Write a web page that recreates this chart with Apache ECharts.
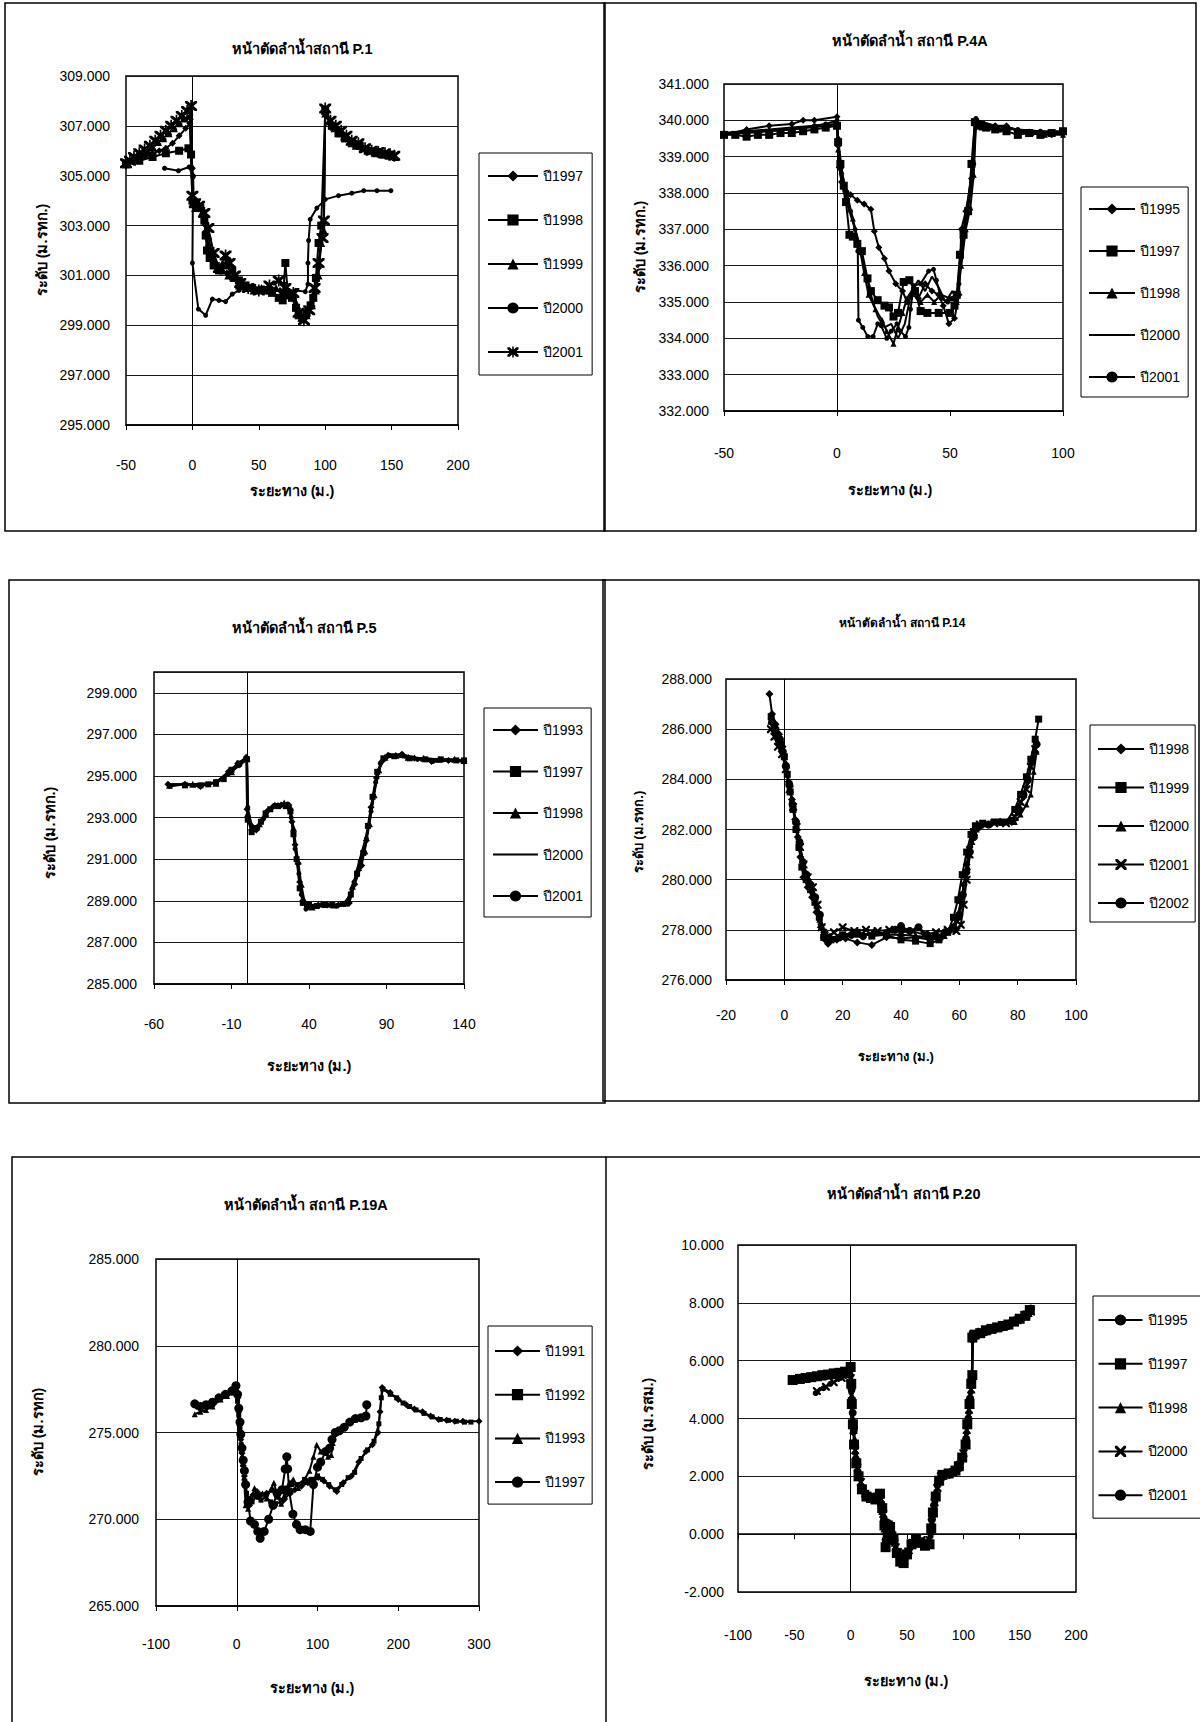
<!DOCTYPE html>
<html>
<head>
<meta charset="utf-8">
<script src="https://cdn.jsdelivr.net/npm/echarts@6/dist/echarts.min.js"></script>
<style>
html,body{margin:0;padding:0;background:#fff;width:1200px;height:1722px;overflow:hidden}
.panel{position:absolute}
</style>
</head>
<body>
<div id="c0" class="panel" style="left:0;top:0;width:606px;height:575px"></div>
<div id="c1" class="panel" style="left:600px;top:0;width:600px;height:575px"></div>
<div id="c2" class="panel" style="left:0;top:575px;width:606px;height:575px"></div>
<div id="c3" class="panel" style="left:600px;top:575px;width:600px;height:575px"></div>
<div id="c4" class="panel" style="left:0;top:1150px;width:606px;height:572px"></div>
<div id="c5" class="panel" style="left:600px;top:1150px;width:600px;height:572px"></div>
<script>
// ---------- Station P.1 : [distance (m), level (m MSL)] ----------
const P1_1997 = [[-50,305.5],[-45,305.6],[-40,305.7],[-35,305.8],[-30,305.9],[-25,306.0],[-20,306.1],[-15,306.3],[-10,306.6],[-5,306.9],[-2,307.1],[0,305.3],[0.5,305.0],[1,304.0],[4,303.8],[8,303.6],[10,303.0],[12,302.2],[14,301.8],[17,301.5],[21,301.2],[26,301.1],[31,300.9],[36,300.6],[42,300.5],[50,300.45],[58,300.5],[66,300.4],[72,300.4],[77,300.2],[81,299.4],[85,299.3],[89,299.7],[92,300.3],[95,301.3],[97,302.6],[99,303.1],[100,307.6],[106,307.0],[112,306.7],[118,306.45],[125,306.25],[132,306.05],[140,305.95],[150,305.85]];
const P1_1998 = [[-50,305.5],[-40,305.6],[-30,305.75],[-20,305.9],[-10,306.0],[-3,306.1],[-1,305.85],[0,304.0],[3,303.8],[6,303.7],[9,303.2],[10,302.6],[11,302.0],[13,301.7],[16,301.4],[20,301.2],[25,301.4],[30,301.2],[35,300.8],[40,300.6],[45,300.5],[50,300.4],[55,300.4],[60,300.3],[65,300.1],[68,300.0],[70,301.5],[72,300.2],[75,300.1],[78,299.7],[80,299.4],[83,299.3],[86,299.5],[89,299.8],[91,300.1],[93,300.9],[95,302.3],[97,303.0],[100,307.6],[105,307.0],[110,306.7],[115,306.5],[120,306.3],[126,306.2],[132,306.0],[138,305.95],[145,305.85],[150,305.85]];
const P1_1999 = [[-50,305.45],[-46,305.6],[-42,305.7],[-38,305.85],[-34,306.0],[-30,306.15],[-26,306.35],[-22,306.5],[-18,306.7],[-14,306.9],[-10,307.1],[-6,307.3],[-2,307.4],[0,303.9],[2,303.7],[4,303.8],[7,303.5],[10,303.2],[12,302.6],[14,302.0],[16,301.7],[19,301.4],[23,301.2],[27,301.0],[31,300.9],[35,300.6],[40,300.5],[46,300.4],[52,300.5],[58,300.4],[63,300.5],[68,300.2],[72,300.3],[76,300.2],[79,299.8],[82,299.3],[86,299.4],[90,299.8],[93,300.4],[95,301.0],[97,302.3],[99,302.8],[100,307.5],[103,307.2],[107,306.9],[111,306.7],[115,306.5],[119,306.4],[123,306.2],[128,306.1],[133,306.0],[138,305.9],[143,305.85],[148,305.8],[153,305.75]];
const P1_2000 = [[-21,305.3],[-10.5,305.2],[-2.5,305.35],[0.5,304.95],[0,301.5],[4.5,299.65],[10,299.4],[15,300.05],[20,300.0],[25,299.95],[30,300.25],[35,300.4],[40,300.5],[50,300.4],[60,300.4],[70,300.4],[78,300.4],[85,300.35],[87,300.65],[87,301.5],[87.5,302.4],[88.7,303.25],[93.7,303.7],[100,304.05],[110,304.2],[120,304.3],[129,304.4],[139,304.4],[149.5,304.4]];
const P1_2001 = [[-50,305.5],[-47,305.6],[-44,305.75],[-40,305.9],[-36,306.05],[-32,306.2],[-28,306.4],[-24,306.6],[-20,306.8],[-16,307.0],[-12,307.2],[-8,307.4],[-4,307.6],[-1,307.8],[0,304.2],[2,303.9],[5,303.8],[9,303.5],[12,302.9],[16,301.9],[20,301.3],[25,301.8],[28,301.5],[32,301.0],[36,300.7],[42,300.5],[50,300.4],[58,300.6],[65,300.8],[70,300.5],[76,300.3],[80,299.5],[84,299.2],[88,299.6],[92,300.5],[95,301.5],[98,302.5],[99,303.2],[100,307.7],[104,307.2],[108,307.0],[112,306.8],[116,306.6],[120,306.4],[125,306.3],[130,306.1],[135,306.0],[140,305.95],[145,305.9],[152,305.8]];

// ---------- Station P.4A ----------
const P4A_1995 = [[-50,339.6],[-40,339.75],[-30,339.85],[-20,339.9],[-15,340.0],[-10,340.0],[0,340.1],[0.5,339.3],[1,338.7],[2,338.3],[4,338.05],[6,337.95],[9,337.8],[12,337.7],[15,337.55],[16.5,336.95],[18.5,336.5],[21,336.2],[23,335.85],[26,335.5],[29,335.3],[31,335.0],[33,335.2],[36,335.1],[39,335.5],[42,335.3],[45,335.2],[47,334.9],[49.5,334.4],[52,334.55],[54,335.2],[55,337.0],[57,337.5],[59.5,338.4],[61,340.0],[62,339.95],[65,339.9],[70,339.85],[75,339.85],[80,339.7],[85,339.65],[90,339.65],[95,339.6],[100,339.65]];
const P4A_1997 = [[-50,339.6],[-45,339.6],[-40,339.55],[-35,339.6],[-30,339.6],[-25,339.65],[-20,339.65],[-15,339.7],[-10,339.75],[-5,339.8],[0,339.85],[0.5,339.4],[1.5,338.8],[3,338.2],[4,337.75],[5.5,336.85],[7,336.8],[9,336.6],[11,336.4],[13.5,335.65],[15,335.3],[18,335.05],[21,334.9],[23,334.85],[25,334.6],[27,334.7],[29.5,335.55],[32,335.6],[34.5,335.3],[37,334.75],[40,334.7],[45,334.7],[50,334.7],[52,334.9],[53,335.2],[54.4,336.3],[56,336.85],[58,337.5],[59.5,338.8],[61,339.95],[63,339.85],[66,339.8],[70,339.75],[75,339.7],[80,339.6],[85,339.65],[90,339.6],[95,339.65],[100,339.7]];
const P4A_1998 = [[-50,339.65],[-40,339.7],[-30,339.75],[-20,339.8],[-10,339.85],[0,339.9],[0.5,339.2],[2,338.6],[4,338.1],[7,337.3],[10,336.5],[12,335.8],[14,335.2],[17,334.8],[20,334.5],[22,334.2],[25,333.85],[27,334.3],[29,334.7],[31,335.1],[34,335.4],[37,335.0],[40,335.2],[43,335.0],[46,335.2],[50,335.1],[53,335.0],[55,336.0],[57,337.0],[59,337.6],[60.5,338.5],[61.5,339.9],[64,339.8],[68,339.8],[72,339.75],[76,339.8],[80,339.7],[86,339.65],[92,339.6],[100,339.6]];
const P4A_2000 = [[-50,339.65],[-35,339.7],[-20,339.75],[-5,339.85],[0,339.9],[1,338.7],[3,338.0],[6,337.4],[9,336.8],[12,336.0],[15,335.2],[18,334.6],[21,334.3],[24,334.4],[27,334.0],[30,334.4],[33,335.3],[36,335.6],[39,335.3],[42,335.7],[45,335.4],[48,335.0],[51,335.3],[53,335.1],[55,336.6],[58,337.8],[60,338.8],[61.5,340.0],[70,339.85],[80,339.75],[90,339.7],[100,339.7]];
const P4A_2001 = [[-50,339.6],[-40,339.65],[-30,339.7],[-20,339.75],[-10,339.85],[-5,339.9],[0,340.0],[0.5,339.5],[2,338.7],[4,337.9],[6,337.5],[8,337.0],[9.2,336.4],[9.5,334.5],[11.4,334.3],[13.6,334.05],[16,334.05],[18,334.4],[19.5,334.35],[22,334.0],[24,334.2],[26.5,334.4],[28,334.2],[30.3,334.05],[31.8,334.3],[32.5,334.8],[34,335.45],[37,335.5],[40.5,335.85],[42.7,335.9],[44,335.6],[46,335.1],[49,335.0],[51,335.1],[53,335.0],[54,335.5],[55,336.3],[57,337.2],[59,338.0],[60.5,338.8],[61.5,340.05],[65,339.9],[70,339.85],[75,339.8],[80,339.75],[85,339.7],[90,339.7],[95,339.65],[100,339.65]];

// ---------- Station P.5 ----------
const P5_1993 = [[-51,294.6],[-40,294.6],[-30,294.5],[-20,294.7],[-12,295.2],[-6,295.6],[-0.5,295.9],[0,293.4],[3,292.4],[6,292.4],[10,292.9],[13,293.3],[17,293.55],[22,293.6],[27,293.6],[29,292.8],[31,291.7],[33,290.8],[34,289.9],[36,289.0],[40,288.7],[46,288.8],[52,288.8],[59,288.8],[66,288.9],[69.5,289.8],[74,290.7],[77,291.9],[80,293.5],[83.5,294.9],[87,295.7],[91,296.0],[100,296.05],[108,295.85],[119,295.7],[130,295.75],[140,295.7]];
const P5_1997 = [[-40,294.55],[-30,294.55],[-25,294.6],[-20,294.7],[-15,294.85],[-10,295.3],[-5,295.6],[0,295.8],[0.5,292.9],[3,292.3],[6,292.5],[9,292.8],[12,293.2],[15,293.4],[20,293.55],[25,293.55],[28,293.3],[30,292.2],[32,291.0],[34,289.6],[36,288.9],[40,288.8],[45,288.75],[50,288.8],[55,288.8],[62,288.85],[67,289.3],[71,290.3],[75,291.3],[78,292.6],[81,294.0],[84,295.2],[88,295.85],[95,295.95],[105,295.85],[115,295.8],[125,295.8],[135,295.75],[140,295.75]];
const P5_1998 = [[-50,294.55],[-35,294.6],[-20,294.65],[-10,295.2],[0,295.85],[0.5,293.2],[4,292.5],[8,292.7],[12,293.2],[18,293.6],[24,293.7],[28,293.5],[30,292.5],[33,290.9],[35,289.8],[37,289.0],[42,288.7],[48,288.85],[56,288.8],[64,288.9],[68,289.7],[72,290.6],[76,291.4],[79,292.7],[82,294.1],[85,295.3],[89,295.9],[96,296.0],[104,295.9],[114,295.85],[124,295.8],[134,295.8],[140,295.75]];
const P5_2000 = [[-50,294.6],[-30,294.6],[-20,294.7],[-10,295.3],[0,295.9],[0.5,293.0],[5,292.4],[10,292.9],[16,293.5],[26,293.6],[29,292.9],[33,290.6],[36,289.0],[42,288.8],[60,288.8],[66,289.0],[72,290.8],[78,292.4],[83,294.6],[87,295.7],[93,296.0],[110,295.85],[140,295.75]];
const P5_2001 = [[-50,294.5],[-40,294.6],[-30,294.55],[-20,294.7],[-12,295.1],[-5,295.5],[0,295.8],[0.5,293.5],[3,292.6],[7,292.5],[11,293.0],[15,293.4],[20,293.6],[26,293.65],[28.5,293.0],[31,291.5],[33.5,290.3],[35,289.3],[38,288.6],[43,288.7],[50,288.8],[58,288.75],[65,288.85],[69,289.9],[73,290.9],[77,292.0],[80,293.3],[83,294.7],[86,295.6],[92,296.0],[100,296.05],[110,295.8],[120,295.7],[130,295.75],[140,295.7]];

// ---------- Station P.14 ----------
const P14_1998 = [[-5.1,287.4],[-4.2,286.6],[-3,286.2],[-1.8,285.8],[-0.6,285.3],[0.5,284.6],[1.5,283.9],[2.6,283.2],[3.7,282.4],[4.6,281.7],[5.5,280.9],[6.5,280.1],[8,279.7],[9.5,279.3],[11,278.7],[12.5,278.1],[14,277.6],[15,277.45],[18,277.6],[21,277.65],[25,277.5],[30,277.4],[35,277.7],[40,277.65],[45,277.7],[50,277.6],[54,277.7],[57,278.0],[59,278.4],[60.5,279.1],[61.5,279.8],[62.5,280.6],[63.5,281.3],[64.5,281.9],[66,282.1],[70,282.2],[75,282.25],[78,282.3],[80,282.7],[82,283.3],[83.5,283.9],[85,284.7],[86.5,285.4]];
const P14_1999 = [[-4.5,286.5],[-3.5,286.1],[-2.5,285.7],[-1.2,285.4],[0,284.9],[1,284.2],[2,283.5],[3,282.8],[4,282.0],[5,281.3],[6,280.5],[7.5,280.0],[9,279.6],[10.5,279.1],[12,278.5],[13.5,277.7],[16,277.6],[20,277.8],[25,277.9],[30,277.75],[35,277.8],[40,277.6],[45,277.55],[50,277.45],[53,277.6],[56,277.9],[58,278.5],[59.5,279.2],[61,280.2],[62.5,281.1],[64,281.8],[65.5,282.15],[68,282.25],[72,282.3],[76,282.3],[79,282.8],[81,283.4],[83,284.1],[84.5,284.8],[86,285.6],[87.2,286.4]];
const P14_2000 = [[-4.8,286.3],[-3.6,285.9],[-2.2,285.6],[-1,285.2],[0.3,284.6],[1.4,283.9],[2.5,283.2],[3.6,282.5],[4.8,281.7],[6,280.9],[7.2,280.2],[8.8,279.7],[10.4,279.2],[12,278.4],[13.2,277.8],[16,277.7],[20,277.75],[25,277.8],[30,277.85],[35,277.8],[40,277.8],[45,277.75],[50,277.7],[55,277.75],[58,278.0],[60,278.5],[61.5,279.5],[63,280.5],[64.5,281.5],[66,282.0],[70,282.2],[75,282.3],[79,282.3],[81,282.6],[83,283.0],[84.5,283.4],[85.5,284.3],[86.5,285.1]];
const P14_2001 = [[-4.6,286.0],[-3.4,285.7],[-2.2,285.3],[-0.8,285.0],[0.5,284.4],[1.8,283.6],[3,282.9],[4.2,282.1],[5.4,281.3],[6.6,280.6],[8,280.1],[9.8,279.7],[11.4,279.0],[12.8,278.1],[14.5,277.7],[17,277.9],[20,278.1],[24,277.95],[28,278.0],[32,277.95],[36,278.0],[40,277.9],[44,277.95],[48,277.8],[52,277.9],[56,278.0],[59,277.95],[60.5,278.2],[61.5,279.0],[62.5,280.0],[63.5,281.0],[65,281.9],[67,282.2],[72,282.25],[76,282.25],[79,282.5],[81,283.1],[83,283.6],[84.5,284.5],[86,285.2]];
const P14_2002 = [[-4.2,286.3],[-3,286.0],[-1.5,285.6],[-0.5,285.1],[0.6,284.5],[1.7,283.8],[2.8,283.0],[4,282.3],[5.2,281.5],[6.4,280.7],[7.6,280.2],[9,279.8],[10.6,279.3],[12.2,278.6],[13.8,277.9],[15.5,277.6],[19,277.7],[23,277.8],[27,277.75],[31,277.9],[35,277.85],[38,278.0],[40,278.15],[43,277.95],[46,278.1],[49,277.8],[52,277.75],[55,277.9],[58,278.1],[60,278.6],[61.2,279.4],[62.4,280.3],[63.6,281.1],[65,281.7],[66.5,282.1],[70,282.2],[74,282.3],[78,282.35],[80.5,282.8],[82,283.4],[83.5,284.0],[85,284.8],[86.5,285.4]];

// ---------- Station P.19A ----------
const P19A_1991 = [[-50,276.5],[-40,276.6],[-30,276.7],[-20,277.0],[-12,277.2],[-5,277.4],[0,277.7],[1.5,277.0],[2.5,276.2],[3.7,275.4],[5,274.6],[6.5,273.8],[8,273.1],[9.5,272.5],[11,271.9],[13,271.0],[16,270.8],[20,271.4],[25,271.6],[30,271.4],[37,271.5],[44,271.7],[50,271.3],[58,271.1],[66,271.5],[72,271.7],[80,271.9],[88,272.1],[95,272.2],[101,272.4],[108,272.2],[115,271.9],[124,271.6],[132,272.1],[142,272.5],[151,273.3],[160,273.9],[168,274.3],[175,275.0],[177.5,276.2],[180,277.6],[190,277.3],[200,276.9],[210,276.6],[220,276.35],[230,276.2],[240,275.95],[250,275.75],[260,275.7],[270,275.65],[280,275.65],[300,275.65]];
const P19A_1992 = [[-50,276.6],[-45,276.4],[-38,276.5],[-30,276.6],[-22,276.9],[-15,277.1],[-7,277.3],[-1,277.5],[1,276.8],[2.5,276.0],[4,275.2],[5.5,274.3],[7,273.5],[8.5,272.8],[10,272.2],[12,271.5],[15,271.2],[19,271.0],[24,271.3],[30,271.1],[36,271.3],[42,271.0],[48,270.9],[55,271.0],[62,271.8],[68,272.0],[75,272.0],[84,272.3],[92,272.3],[100,272.5],[106,272.3],[114,272.0],[122,271.7],[130,272.0],[138,272.4],[146,272.7],[154,273.5],[162,274.0],[170,274.5],[176,275.5],[179,277.0],[181,277.5],[190,277.2],[198,277.0],[206,276.7],[214,276.5],[222,276.3],[232,276.1],[242,275.9],[252,275.75],[262,275.7],[272,275.65],[282,275.6],[290,275.6]];
const P19A_1993 = [[-52,276.05],[-45,276.2],[-38,276.3],[-30,276.5],[-20,276.9],[-12,277.1],[-4,277.3],[0,277.5],[1.5,276.6],[3,275.8],[4.5,274.9],[6,274.0],[7.5,273.2],[9,272.4],[11,270.8],[14,270.6],[18,271.2],[22,271.8],[27,271.3],[32,271.5],[37,271.2],[42,271.7],[46,272.1],[50,271.4],[55,270.9],[60,271.3],[65,272.1],[70,272.3],[76,271.8],[83,272.2],[90,272.8],[95,273.6],[99,274.3],[104,273.9],[108,273.9],[113,273.6],[117,273.7],[119,274.4],[123,275.0],[128,275.2],[134,275.4],[140,275.6],[146,275.75],[152,275.8],[158,275.9]];
const P19A_1997 = [[-52,276.65],[-45,276.5],[-38,276.6],[-30,276.75],[-22,277.0],[-14,277.2],[-6,277.4],[-1,277.7],[1,277.2],[2.5,276.4],[4,275.6],[5,274.9],[6.5,274.1],[8,273.4],[9.5,272.8],[11,272.0],[14,271.0],[17,269.9],[22,269.7],[26,269.3],[29,268.9],[34,269.3],[39.5,270.0],[45,270.8],[50,271.5],[56,271.7],[60,272.9],[62,273.6],[63,272.9],[65,271.6],[69.5,270.3],[74,269.7],[78.5,269.4],[85,269.4],[91,269.3],[95,272.0],[100,273.0],[104,273.3],[110,273.9],[115,274.1],[118,274.6],[122,275.0],[127,275.1],[133,275.3],[140,275.6],[147,275.8],[154,275.85],[160,275.95],[161,276.6]];

// ---------- Station P.20 ----------
const P20_1995 = [[-31,4.88],[-24,5.05],[-18,5.2],[-9,5.4],[-3,5.5],[0,5.45],[0.5,4.9],[1.5,4.2],[2.5,3.5],[4,2.8],[6,2.2],[9,1.7],[13,1.35],[17,1.2],[22,1.15],[27,1.1],[29,0.6],[31,-0.1],[34,0.0],[37,-0.1],[40,-0.5],[43,-0.8],[46,-0.9],[49,-0.8],[53,-0.5],[57,-0.3],[61,-0.35],[65,-0.45],[69,-0.4],[71,0.0],[73,0.6],[75,1.1],[78,1.7],[82,1.95],[88,2.05],[94,2.15],[98,2.45],[101,2.9],[103,3.5],[105,4.2],[106.5,4.9],[107.5,5.4],[108,6.7],[113,6.85],[120,6.95],[128,7.05],[136,7.15],[144,7.3],[152,7.45],[158,7.6]];
const P20_1997 = [[-51.5,5.33],[-45,5.37],[-40,5.4],[-35,5.43],[-30,5.46],[-25,5.5],[-20,5.52],[-15,5.56],[-10,5.58],[-5,5.62],[0,5.78],[0.5,5.2],[1,4.5],[2,3.8],[3,3.1],[5,2.45],[7,2.0],[10,1.55],[14,1.3],[18,1.25],[22,1.2],[26,1.4],[28,0.9],[30,0.3],[31,-0.45],[33,0.3],[35,0.25],[38,-0.2],[41,-0.65],[44,-0.95],[47,-1.0],[50,-0.7],[54,-0.35],[58,-0.2],[62,-0.3],[66,-0.4],[70,-0.35],[71.5,0.2],[73,0.75],[75.5,1.3],[78.5,1.85],[81.5,2.05],[87,2.1],[93,2.2],[96,2.35],[99,2.65],[102,3.1],[103.5,3.8],[105.5,4.5],[107,5.2],[108,5.5],[108,6.8],[110,6.9],[115,6.95],[120,7.05],[125,7.1],[130,7.15],[135,7.2],[140,7.25],[145,7.35],[150,7.45],[155,7.55],[159,7.75]];
const P20_1998 = [[-45,5.35],[-35,5.4],[-25,5.45],[-15,5.5],[-5,5.55],[0,5.6],[1,4.8],[2,4.0],[3.5,3.3],[5,2.7],[7.5,2.1],[11,1.6],[15,1.35],[20,1.3],[25,1.3],[28,0.8],[30,0.2],[32,0.4],[36,0.0],[39,-0.3],[42,-0.6],[45,-0.85],[48,-0.9],[52,-0.55],[56,-0.25],[60,-0.2],[64,-0.3],[68,-0.25],[71,0.1],[73.5,0.9],[76,1.5],[79,1.95],[84,2.1],[90,2.15],[95,2.3],[99.5,2.75],[102.5,3.4],[104.5,4.1],[106,4.8],[107.5,5.3],[108.5,6.85],[114,6.95],[122,7.05],[130,7.15],[138,7.2],[146,7.4],[154,7.55],[158,7.65]];
const P20_2000 = [[-30,4.95],[-22,5.1],[-15,5.25],[-8,5.4],[-2,5.5],[0,5.4],[1,4.6],[2.5,3.6],[4,2.9],[6,2.3],[9,1.8],[13,1.4],[18,1.3],[23,1.25],[27,1.2],[29,0.7],[31,0.1],[34,0.2],[37,-0.05],[40,-0.45],[44,-0.85],[47,-0.95],[51,-0.6],[55,-0.3],[59,-0.15],[63,-0.2],[67,-0.35],[70,-0.2],[72,0.4],[74.5,1.1],[77,1.6],[80,2.0],[85,2.05],[91,2.15],[97,2.4],[100,2.8],[103,3.6],[105,4.3],[107,5.0],[108,5.5],[108.5,6.9],[116,7.0],[124,7.1],[132,7.15],[140,7.25],[148,7.4],[156,7.6],[160,7.7]];
const P20_2001 = [[-50,5.35],[-40,5.4],[-30,5.45],[-20,5.5],[-10,5.55],[-3,5.6],[0,5.7],[0.8,5.0],[1.8,4.2],[2.8,3.6],[4.5,2.6],[6.5,2.1],[9.5,1.6],[13,1.4],[18,1.3],[24,1.3],[27,1.0],[29.5,0.5],[31,-0.2],[33,0.4],[36,0.1],[39,-0.2],[42,-0.7],[45,-1.0],[48,-0.85],[51,-0.6],[55,-0.3],[59,-0.15],[63,-0.25],[67,-0.35],[70,-0.3],[72,0.5],[74,1.0],[77,1.7],[81,2.0],[86,2.1],[92,2.2],[96,2.3],[100,2.7],[102.5,3.3],[104.5,4.0],[106,4.7],[107.5,5.4],[108.5,6.8],[112,6.9],[118,7.0],[126,7.1],[134,7.2],[142,7.3],[150,7.45],[157,7.65],[160,7.8]];

// ---------- shared text ----------
const X_TITLE = 'ระยะทาง (ม.)';
const FONT = '"Liberation Sans", Arial, "DejaVu Sans", "Noto Sans", sans-serif';

// marker shapes
const SYM_X = 'path://M0,0L2,0L5,3L8,0L10,0L10,2L7,5L10,8L10,10L8,10L5,7L2,10L0,10L0,8L3,5L0,2Z';
const SYM_STAR = 'path://M0,1L2,1L5,4L8,1L10,1L10,3L7,6L10,9L10,11L8,11L5,8L2,11L0,11L0,9L3,6L0,3Z M4.3,0L5.7,0L5.7,12L4.3,12Z';

// one entry per station; coordinates are local to each panel's box
const PANELS = [
  { el: 'c0', title: 'หน้าตัดลำน้ำสถานี P.1', titleXY: [302, 49], titleSize: 14.5,
    frame: [5, 3, 600, 528], grid: [126, 76, 332, 349],
    x: [-50, 200, 50], y: [295, 309, 2], yLabelMargin: 16, xLabelMargin: 33,
    yTitle: 'ระดับ (ม.รทก.)', yTitleXY: [42, 250], xTitleXY: [292, 491], axisTitleSize: 14.5,
    legend: { box: [479, 153], pad: [16, 9, 16, 8], gap: 30, itemW: 50 },
    series: [
      ['ปี1997', P1_1997, 'diamond', 7],
      ['ปี1998', P1_1998, 'rect', 8],
      ['ปี1999', P1_1999, 'triangle', 8],
      ['ปี2000', P1_2000, 'circle', 5],
      ['ปี2001', P1_2001, SYM_STAR, 12]
    ] },
  { el: 'c1', title: 'หน้าตัดลำน้ำ สถานี P.4A', titleXY: [310, 41], titleSize: 14.5,
    frame: [4, 3, 592, 528], grid: [124, 84, 339, 327],
    x: [-50, 100, 50], y: [332, 341, 1], yLabelMargin: 15, xLabelMargin: 35,
    yTitle: 'ระดับ (ม.รทก.)', yTitleXY: [40, 247], xTitleXY: [290, 490], axisTitleSize: 14.5,
    legend: { box: [481, 187], pad: [15, 8, 13, 7], gap: 28, itemW: 46 },
    series: [
      ['ปี1995', P4A_1995, 'diamond', 7],
      ['ปี1997', P4A_1997, 'rect', 8],
      ['ปี1998', P4A_1998, 'triangle', 6],
      ['ปี2000', P4A_2000, 'none', 0],
      ['ปี2001', P4A_2001, 'circle', 5]
    ] },
  { el: 'c2', title: 'หน้าตัดลำน้ำ สถานี P.5', titleXY: [304, 53], titleSize: 14.5,
    frame: [9, 5, 596, 523], grid: [154, 97, 310, 312],
    x: [-60, 140, 50], y: [285, 300, 2], hideMaxY: true, yLabelMargin: 17, xLabelMargin: 33,
    yTitle: 'ระดับ (ม.รทก.)', yTitleXY: [50, 258], xTitleXY: [309, 491], axisTitleSize: 14.5,
    legend: { box: [484, 133], pad: [15, 8, 14, 8], gap: 27.5, itemW: 45 },
    series: [
      ['ปี1993', P5_1993, 'diamond', 7],
      ['ปี1997', P5_1997, 'rect', 6],
      ['ปี1998', P5_1998, 'triangle', 7],
      ['ปี2000', P5_2000, 'none', 0],
      ['ปี2001', P5_2001, 'circle', 5]
    ] },
  { el: 'c3', title: 'หน้าตัดลำน้ำ สถานี P.14', titleXY: [302, 48], titleSize: 12,
    frame: [3, 5, 596, 521], grid: [126, 104, 350, 301],
    x: [-20, 100, 20], y: [276, 288, 2], yLabelMargin: 14, xLabelMargin: 28,
    yTitle: 'ระดับ (ม.รทก.)', yTitleXY: [38, 257], xTitleXY: [296, 481], axisTitleSize: 13,
    legend: { box: [490, 150], pad: [17, 6, 12, 7], gap: 24.5, itemW: 46 },
    series: [
      ['ปี1998', P14_1998, 'diamond', 8],
      ['ปี1999', P14_1999, 'rect', 7],
      ['ปี2000', P14_2000, 'triangle', 6],
      ['ปี2001', P14_2001, SYM_X, 8],
      ['ปี2002', P14_2002, 'circle', 8]
    ] },
  { el: 'c4', title: 'หน้าตัดลำน้ำ สถานี P.19A', titleXY: [306, 55], titleSize: 14.5,
    frame: [12, 7, 595, 580], grid: [156, 109, 323, 347],
    x: [-100, 300, 100], y: [265, 285, 5], yLabelMargin: 17, xLabelMargin: 31,
    yTitle: 'ระดับ (ม.รทก)', yTitleXY: [38, 282], xTitleXY: [312, 538], axisTitleSize: 14.5,
    legend: { box: [488, 176], pad: [18, 7, 15, 6], gap: 29.7, itemW: 45 },
    series: [
      ['ปี1991', P19A_1991, 'diamond', 7],
      ['ปี1992', P19A_1992, 'rect', 5],
      ['ปี1993', P19A_1993, 'triangle', 6],
      ['ปี1997', P19A_1997, 'circle', 9]
    ] },
  { el: 'c5', title: 'หน้าตัดลำน้ำ สถานี P.20', titleXY: [304, 44], titleSize: 14.5,
    frame: [6, 7, 600, 580], grid: [138, 95, 338, 347],
    x: [-100, 200, 50], y: [-2, 10, 2], xOnZero: true, yLabelMargin: 14, xLabelMargin: 36,
    yTitle: 'ระดับ (ม.รสม.)', yTitleXY: [48, 274], xTitleXY: [306, 531], axisTitleSize: 14.5,
    legend: { box: [493, 146], pad: [17, 20, 16, 4.5], gap: 29.8, itemW: 44 },
    series: [
      ['ปี1995', P20_1995, 'circle', 6],
      ['ปี1997', P20_1997, 'rect', 10],
      ['ปี1998', P20_1998, 'triangle', 8],
      ['ปี2000', P20_2000, SYM_X, 8],
      ['ปี2001', P20_2001, 'circle', 8]
    ] }
];

function textEl(text, x, y, size, rotate) {
  return {
    type: 'text', x: x, y: y, rotation: rotate ? Math.PI / 2 : 0, silent: true,
    style: {
      text: text, fill: '#000', fontSize: size, fontFamily: FONT, fontWeight: 'bold',
      align: 'center', verticalAlign: 'middle',
      textAlign: 'center', textVerticalAlign: 'middle'
    }
  };
}

function buildPanel(p) {
  const el = document.getElementById(p.el);
  const chart = echarts.init(el, null, { renderer: 'svg' });
  const series = p.series.map(function (s, i) {
    const item = {
      name: s[0], type: 'line', data: s[1],
      symbol: s[2], symbolSize: s[3], showSymbol: s[2] !== 'none',
      lineStyle: { color: '#000', width: 2 },
      itemStyle: { color: '#000' },
      emphasis: { disabled: true },
      animation: false, clip: false
    };
    if (i === 0) {
      // vertical axis crossing at distance 0
      item.markLine = {
        silent: true, symbol: ['none', 'none'], animation: false,
        label: { show: false },
        lineStyle: { color: '#000', width: 1, type: 'solid' },
        emphasis: { disabled: true },
        data: [{ xAxis: 0 }]
      };
    }
    return item;
  });
  const lg = p.legend;
  chart.setOption({
    animation: false,
    backgroundColor: 'transparent',
    textStyle: { fontFamily: FONT },
    grid: {
      left: p.grid[0], top: p.grid[1], width: p.grid[2], height: p.grid[3],
      show: true, borderColor: '#000', borderWidth: 1.5, backgroundColor: 'transparent',
      containLabel: false
    },
    xAxis: {
      type: 'value', min: p.x[0], max: p.x[1], interval: p.x[2],
      axisLine: { show: true, onZero: !!p.xOnZero, lineStyle: { color: '#000', width: 1.5 } },
      axisTick: { show: true, length: 5, lineStyle: { color: '#000', width: 1 } },
      axisLabel: { color: '#000', fontSize: 14, fontFamily: FONT, margin: p.xLabelMargin },
      splitLine: { show: false }
    },
    yAxis: {
      type: 'value', min: p.y[0], max: p.y[1], interval: p.y[2],
      axisLine: { show: false, onZero: false },
      axisTick: { show: false },
      axisLabel: {
        color: '#000', fontSize: 14, fontFamily: FONT, margin: p.yLabelMargin,
        showMaxLabel: !p.hideMaxY,
        formatter: function (v) { return v.toFixed(3); }
      },
      splitLine: { show: true, lineStyle: { color: '#1a1a1a', width: 1 } }
    },
    legend: {
      orient: 'vertical', left: lg.box[0], top: lg.box[1],
      padding: lg.pad, itemGap: lg.gap, itemWidth: lg.itemW, itemHeight: 14,
      borderColor: '#000', borderWidth: 1, backgroundColor: '#fff',
      selectedMode: false,
      textStyle: { color: '#000', fontSize: 14, fontFamily: FONT, lineHeight: 14 },
      data: p.series.map(function (s) {
        // a series drawn without markers shows only its line in the key
        return s[2] === 'none' ? { name: s[0], itemStyle: { opacity: 0 } } : s[0];
      })
    },
    graphic: [
      { type: 'rect', silent: true, z: -10,
        shape: { x: p.frame[0], y: p.frame[1], width: p.frame[2], height: p.frame[3] },
        style: { fill: 'none', stroke: '#000', lineWidth: 1.5 } },
      textEl(p.title, p.titleXY[0], p.titleXY[1], p.titleSize, false),
      textEl(X_TITLE, p.xTitleXY[0], p.xTitleXY[1], p.axisTitleSize, false),
      textEl(p.yTitle, p.yTitleXY[0], p.yTitleXY[1], p.axisTitleSize, true)
    ],
    series: series
  });
}

PANELS.forEach(buildPanel);
</script>
</body>
</html>
